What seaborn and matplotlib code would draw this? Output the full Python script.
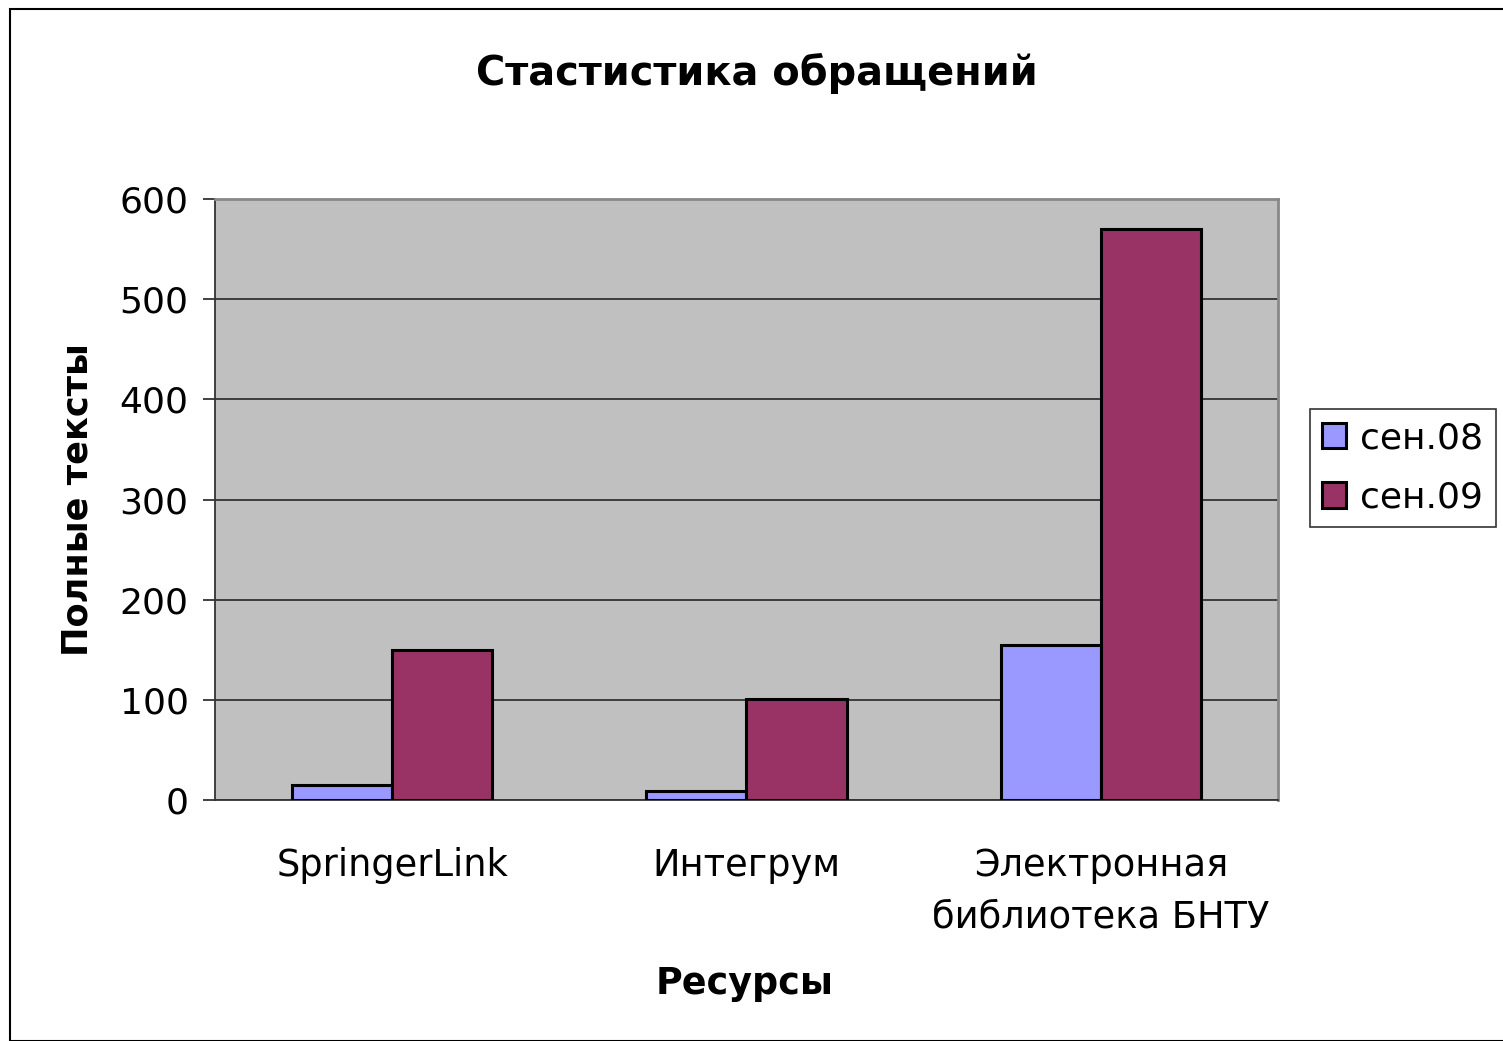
import matplotlib
matplotlib.use("Agg")
import matplotlib.pyplot as plt
import seaborn as sns
import pandas as pd
from matplotlib.patches import Rectangle

categories = ["SpringerLink", "Интегрум", "Электронная\nбиблиотека БНТУ"]
series_names = ["сен.08", "сен.09"]
values_sep08 = [15, 9, 155]
values_sep09 = [150, 101, 570]
y_ticks = [0, 100, 200, 300, 400, 500, 600]

df = pd.DataFrame({
    "Ресурс": categories * 2,
    "Серия": [series_names[0]] * 3 + [series_names[1]] * 3,
    "Значение": values_sep08 + values_sep09,
})

sns.set_theme(style="white")
plt.rcParams["font.family"] = ["DejaVu Sans"]
plt.rcParams["text.color"] = "black"
plt.rcParams["xtick.color"] = "black"
plt.rcParams["ytick.color"] = "black"

fig = plt.figure(figsize=(15.03, 10.41), dpi=100)
ax = fig.add_axes([215 / 1503, 1 - 800 / 1041, 1063 / 1503, 601 / 1041])
ax.set_facecolor("#C0C0C0")

palette = {"сен.08": "#9999FF", "сен.09": "#993366"}
sns.barplot(data=df, x="Ресурс", y="Значение", hue="Серия", palette=palette,
            width=0.565, gap=0, edgecolor="black", linewidth=2.2, saturation=1,
            ax=ax, legend=True, zorder=3)

ax.set_ylim(0, 600)
ax.set_xlim(-0.5, 2.5)
ax.set_yticks(y_ticks)
ax.set_yticklabels([str(v) for v in y_ticks], fontsize=26)
ax.yaxis.grid(True, color="#333333", linewidth=1.3, zorder=1)
ax.set_axisbelow(True)

ax.tick_params(axis="x", which="major", length=0, pad=34, labelsize=26.5, labelcolor="black")
ax.set_xticks([-0.5, 0.5, 1.5, 2.5], minor=True)
ax.tick_params(axis="x", which="minor", length=10, width=1.3, color="#333333", direction="out")
ax.tick_params(axis="y", which="major", length=9, width=1.3, color="#333333", direction="out",
               pad=10, labelcolor="black")
ax.xaxis.set_tick_params(bottom=True)
ax.yaxis.set_tick_params(left=True)
for lbl in ax.get_xticklabels():
    lbl.set_linespacing(1.5)

for side in ["top", "right"]:
    ax.spines[side].set_color("#888888")
    ax.spines[side].set_linewidth(2)
for side in ["left", "bottom"]:
    ax.spines[side].set_color("#333333")
    ax.spines[side].set_linewidth(1.3)

ax.set_xlabel("")
ax.set_ylabel("")
fig.text(78 / 1503, 1 - 500 / 1041, "Полные тексты", rotation=90, ha="center", va="center",
         fontsize=25.3, fontweight="bold")
fig.text(745 / 1503, 1 - 983 / 1041, "Ресурсы", ha="center", va="center",
         fontsize=26.3, fontweight="bold")
fig.text(757 / 1503, 1 - 73 / 1041, "Стастистика обращений", ha="center", va="center",
         fontsize=28.7, fontweight="bold")

handles, labels = ax.get_legend_handles_labels()
ax.get_legend().remove()
leg = fig.legend(handles, labels, loc="center", bbox_to_anchor=(1403 / 1503, 1 - 468 / 1041),
                 frameon=True, fancybox=False, fontsize=26, handlelength=0.65, handleheight=0.7,
                 handletextpad=0.4, labelspacing=0.7, borderpad=0.35, borderaxespad=0)
leg.get_frame().set_edgecolor("black")
leg.get_frame().set_linewidth(1.2)

fig.patches.append(Rectangle((10 / 1503, 0.5 / 1041), 1.2, 1 - 9 / 1041, transform=fig.transFigure,
                             fill=False, edgecolor="black", linewidth=1.5))

fig.savefig("out.png", dpi=100, facecolor="white")
